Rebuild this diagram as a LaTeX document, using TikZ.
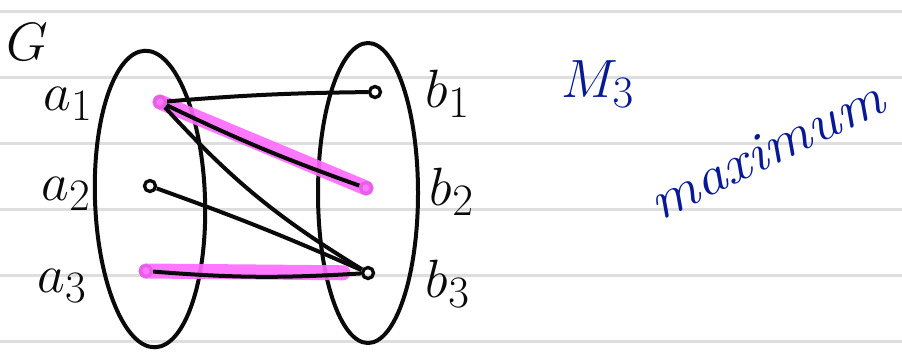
\documentclass[tikz,border=0pt]{standalone}
\usepackage{amsmath}
\usepackage{xcolor}
\usetikzlibrary{shapes,positioning,calc}

\definecolor{pen}{RGB}{10,10,10}
\definecolor{ink}{RGB}{8,25,150}
\definecolor{marker}{RGB}{255,105,255}
\definecolor{ruled}{RGB}{222,222,222}

\begin{document}
\begin{tikzpicture}[
    x=0.03cm, y=-0.03cm,
    v/.style={circle, draw=pen, line width=0.1cm, inner sep=0pt, minimum size=0.33cm},
    part/.style={ellipse, draw=pen, line width=0.12cm, inner sep=0pt},
    edge/.style={draw=pen, line width=0.12cm},
    hl/.style={draw=marker, line width=0.45cm, line cap=round, opacity=0.9},
    lbl/.style={text=pen, font=\Huge, scale=1.85, transform shape},
    note/.style={text=ink, font=\Huge, scale=1.85, transform shape}
]
    \useasboundingbox (0,0) rectangle (902,351);
    % ruled paper
    \foreach \y in {11,77,143,209,275,341}
        \draw[ruled, line width=0.09cm] (0,\y) -- (902,\y);

    \node[part, minimum width=3.3cm, minimum height=8.9cm, rotate=2] (A) at (150,199) {};
    \node[part, minimum width=3.0cm, minimum height=9.0cm] (B) at (368,193) {};

    \node[v] (a1) at (160,102) {};
    \node[v] (a2) at (150,186) {};
    \node[v] (a3) at (146,271) {};
    \node[v] (b1) at (375,92) {};
    \node[v] (b2) at (366,188) {};
    \node[v] (b3) at (368,273) {};

    % matching highlight
    \draw[hl] (a1.center) -- (b2.center);
    \draw[hl, shorten >=0.75cm] (a3.center) -- (b3.center);

    \draw[edge] (a1) to[bend left=2] (b1);
    \draw[edge] (a1) to[bend right=3] (b2);
    \draw[edge] (a1) to[bend right=8] (b3);
    \draw[edge] (a2) to[bend left=2] (b3);
    \draw[edge] (a3) to[bend right=4] (b3);

    \node[lbl] (G) at (27,42) {$G$};
    \node[lbl] (la1) at (68,104) {$a_1$};
    \node[lbl] (la2) at (66,194) {$a_2$};
    \node[lbl] (la3) at (62,286) {$a_3$};
    \node[lbl] (lb1) at (448,94) {$b_1$};
    \node[lbl] (lb2) at (452,192) {$b_2$};
    \node[lbl] (lb3) at (448,284) {$b_3$};

    \node[note] (M) at (598,84) {$M_3$};
    \node[note, rotate=26, xscale=1.13] (max) at (766,150) {\itshape maximum};
\end{tikzpicture}
\end{document}
